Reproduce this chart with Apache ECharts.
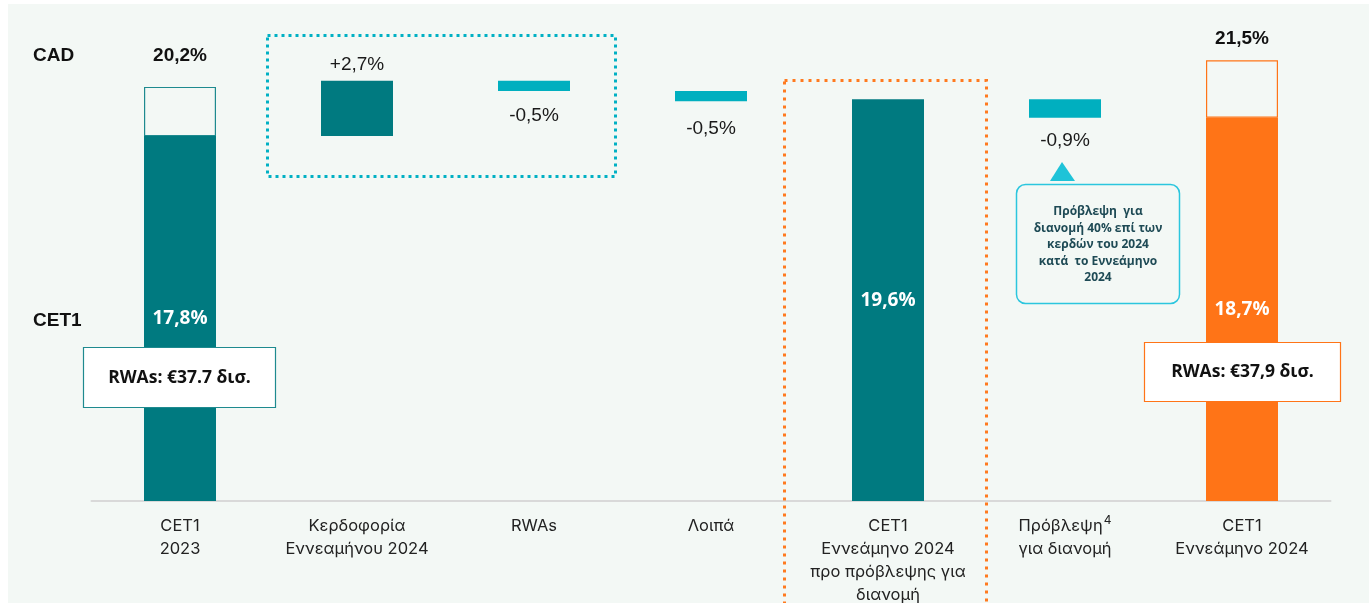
<!DOCTYPE html>
<html><head><meta charset="utf-8">
<script src="https://cdn.jsdelivr.net/npm/echarts@6/dist/echarts.min.js"></script>
<style>
html,body{margin:0;padding:0;background:#fff;}
#wrap{position:relative;width:1369px;height:603px;overflow:hidden;background:#fff;}
#bg{position:absolute;left:8px;top:4px;right:0;bottom:0;background:#F3F8F5;}
#chart{position:absolute;left:0;top:0;width:1369px;height:603px;}
</style></head>
<body><div id="wrap"><div id="bg"></div><div id="chart"></div></div>
<script>
const categories = ['CET1\n2023', 'Κερδοφορία\nΕννεαμήνου 2024', 'RWAs', 'Λοιπά', 'CET1\nΕννεάμηνο 2024\nπρο πρόβλεψης για\nδιανομή', 'Πρόβλεψη\nγια διανομή', 'CET1\nΕννεάμηνο 2024'];
const cet1Totals = [17.8, null, null, null, 19.6, null, 18.7];
const cadTotals = [20.2, null, null, null, null, null, 21.5];
const changes = [null, 2.7, -0.5, -0.5, null, -0.9, null];
const rwaLabels = ['RWAs: €37.7 δισ.', 'RWAs: €37,9 δισ.'];
const calloutText = 'Πρόβλεψη  για\nδιανομή 40% επί των\nκερδών του 2024\nκατά  το Εννεάμηνο\n2024';

const TEAL = '#007A80', CYAN = '#00AFBF', ORANGE = '#FF7417';
const fmt = v => v.toFixed(1).replace('.', ',') + '%';

const base = [], main = [], outline = [];
let run = 0;
for (let i = 0; i < categories.length; i++) {
  if (cet1Totals[i] != null) {
    run = cet1Totals[i];
    base.push(0);
    const isLast = i === categories.length - 1;
    main.push({
      value: cet1Totals[i],
      itemStyle: { color: isLast ? ORANGE : TEAL },
      label: { show: true, position: 'inside', color: '#fff', fontFamily: 'Open Sans', fontWeight: 'bold', fontSize: 19,
        formatter: fmt(cet1Totals[i]) }
    });
  } else {
    const c = changes[i];
    if (c >= 0) {
      base.push(run); run += c;
      main.push({ value: c, itemStyle: { color: TEAL },
        label: { show: true, position: 'top', distance: 6, color: '#1a1a1a', fontFamily: 'Liberation Sans', fontSize: 19,
          formatter: '+' + fmt(c) } });
    } else {
      run += c; base.push(run);
      const dist = i === 2 ? 15 : (i === 3 ? 18 : 14);
      main.push({ value: -c, itemStyle: { color: CYAN },
        label: { show: true, position: 'bottom', distance: dist, color: '#1a1a1a', fontFamily: 'Liberation Sans', fontSize: 19,
          formatter: fmt(c) } });
    }
  }
  if (cadTotals[i] != null) {
    const isLast = i === categories.length - 1;
    outline.push({ value: +(cadTotals[i] - cet1Totals[i]).toFixed(2),
      itemStyle: { color: 'rgba(0,0,0,0)', borderColor: isLast ? ORANGE : '#1E8A8F', borderWidth: 1.2 },
      label: { show: true, position: 'top', distance: isLast ? 12 : 22, color: '#111', fontFamily: 'Liberation Sans', fontWeight: 'bold', fontSize: 19,
        formatter: fmt(cadTotals[i]) } });
  } else outline.push('-');
}

const chart = echarts.init(document.getElementById('chart'), null, { renderer: 'canvas' });
chart.setOption({
  backgroundColor: 'transparent',
  animation: false,
  grid: { left: 91.5, right: 38.5, top: 50, bottom: 102, containLabel: false, outerBoundsMode: 'none' },
  xAxis: {
    type: 'category', data: categories,
    axisLine: { lineStyle: { color: '#D9D9D9', width: 2 } },
    axisTick: { show: false },
    axisLabel: {
      interval: 0, margin: 14, color: '#222', fontFamily: 'Inter', fontSize: 16.5, lineHeight: 23,
      formatter: function (v, i) {
        if (i === 5) {
          const parts = v.split('\n');
          return '{a|' + parts[0] + '}{sup|4}\n{a|' + parts[1] + '}';
        }
        return v;
      },
      rich: {
        a: { fontFamily: 'Inter', fontSize: 16.5, color: '#222', lineHeight: 23 },
        sup: { fontFamily: 'Inter', fontSize: 12, color: '#222', lineHeight: 23, padding: [0, 0, 13, 1] }
      }
    }
  },
  yAxis: { type: 'value', min: 0, max: 22, show: false, splitLine: { show: false } },
  series: [
    { type: 'bar', stack: 'w', data: base, barWidth: 72, silent: true, itemStyle: { color: 'rgba(0,0,0,0)' } },
    { type: 'bar', stack: 'w', data: main, barWidth: 72 },
    { type: 'bar', stack: 'w', data: outline, barWidth: 72 }
  ],
  graphic: [
    { type: 'text', left: 33, top: 46, style: { text: 'CAD', font: 'bold 19px "Liberation Sans"', fill: '#111' } },
    { type: 'text', left: 33, top: 311, style: { text: 'CET1', font: 'bold 19px "Liberation Sans"', fill: '#111' } },
    { type: 'rect', shape: { x: 267.5, y: 35.5, width: 348, height: 141 }, style: { fill: 'none', stroke: '#00B0C4', lineWidth: 3, lineDash: [3, 4] }, z: 10 },
    { type: 'rect', shape: { x: 784.5, y: 80.5, width: 202, height: 560 }, style: { fill: 'none', stroke: '#FF7A1F', lineWidth: 3, lineDash: [3, 5] }, z: 10 },
    { type: 'rect', shape: { x: 83.5, y: 347.5, width: 192, height: 60 }, style: { fill: '#fff', stroke: '#1E8A8F', lineWidth: 1.2 }, z: 10 },
    { type: 'text', x: 179.5, y: 378, style: { text: rwaLabels[0], font: 'bold 17.5px "Open Sans"', fill: '#111', align: 'center', verticalAlign: 'middle' }, z: 11 },
    { type: 'rect', shape: { x: 1144.5, y: 342.5, width: 196, height: 59 }, style: { fill: '#fff', stroke: ORANGE, lineWidth: 1.2 }, z: 10 },
    { type: 'text', x: 1242.5, y: 372, style: { text: rwaLabels[1], font: 'bold 17.5px "Open Sans"', fill: '#111', align: 'center', verticalAlign: 'middle' }, z: 11 },
    { type: 'polygon', shape: { points: [[1062, 162], [1050, 181], [1075, 181]] }, style: { fill: '#1EC3D8' }, z: 10 },
    { type: 'rect', shape: { x: 1016.5, y: 184.5, width: 163, height: 119, r: 9 }, style: { fill: '#F3F8F5', stroke: '#2BC6DE', lineWidth: 1.5 }, z: 10 },
    { type: 'text', x: 1098, y: 245, style: { text: calloutText, font: 'bold 12px "Open Sans"', fill: '#1E4A55', align: 'center', verticalAlign: 'middle', lineHeight: 16.5 }, z: 11 }
  ]
});
</script></body></html>
